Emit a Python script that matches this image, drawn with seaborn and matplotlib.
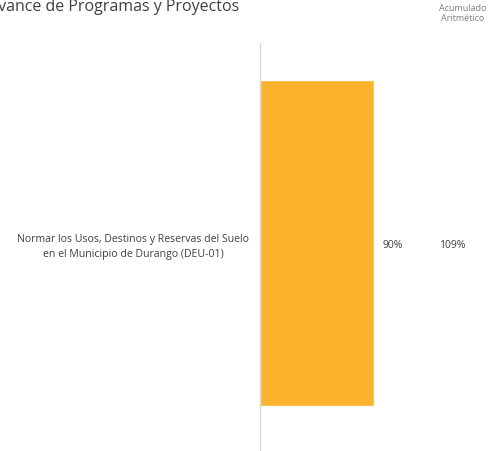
import pandas as pd
import seaborn as sns
import matplotlib.pyplot as plt

# Chart data
programs = ['Normar los Usos, Destinos y Reservas del Suelo\nen el Municipio de Durango (DEU-01)']
advance = [90]
accumulated = [109]

title = 'Avance de Programas y Proyectos'
acc_header = 'Acumulado\nAritmético'

sns.set_theme(style='white')
plt.rcParams['font.family'] = ['Open Sans', 'DejaVu Sans']

df = pd.DataFrame({'Programa': programs, 'Avance': advance, 'Acumulado': accumulated})

W, H = 492, 452
fig = plt.figure(figsize=(W / 100, H / 100), dpi=100)
# axes placed in pixel terms: left edge at x=260, from y=44 down to the bottom
ax = fig.add_axes([260 / W, 0, 127 / W, (H - 44) / H])

sns.barplot(data=df, x='Avance', y='Programa', color='#FBB32E', width=0.8,
            saturation=1, ax=ax)
ax.set_xlim(0, 100)
ax.set_ylim(0.51, -0.49)

# Axis styling
for side in ['top', 'right', 'bottom']:
    ax.spines[side].set_visible(False)
ax.spines['left'].set_color('#d9d9d9')
ax.spines['left'].set_linewidth(1)
ax.set_xticks([])
ax.set_xlabel('')
ax.set_ylabel('')
ax.tick_params(axis='y', length=0, pad=8)
for lbl in ax.get_yticklabels():
    lbl.set_fontsize(7.6)
    lbl.set_color('#404040')
    lbl.set_multialignment('center')
    lbl.set_linespacing(1.45)
    lbl.set_y(-0.008)

# Value labels
for i, row in df.iterrows():
    ax.annotate(f"{row['Avance']}%", xy=(row['Avance'], i), xytext=(8, -2),
                textcoords='offset pixels', va='center', ha='left',
                fontsize=7.5, color='#404040')
    ax.annotate(f"{row['Acumulado']}%", xy=(row['Avance'], i), xytext=(65, -2),
                textcoords='offset pixels', va='center', ha='left',
                fontsize=7.5, color='#404040', annotation_clip=False)

# Title (cropped at the left edge like in the source)
fig.text(-12 / W, 1 + 1 / H, title, ha='left', va='top', fontsize=11.5, color='#404040')
fig.text(463 / W, 1 - 4 / H, acc_header, ha='center', va='top', fontsize=6.5,
         color='#808080', linespacing=1.1)

fig.savefig('out.png', dpi=100)
